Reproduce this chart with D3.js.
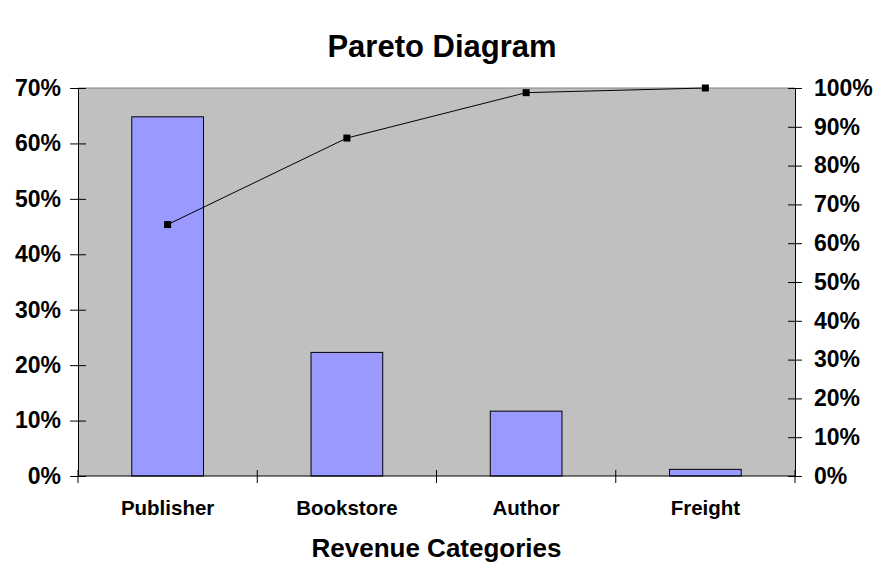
<!DOCTYPE html>
<html><head><meta charset="utf-8">
<script src="https://cdn.jsdelivr.net/npm/d3@7"></script>
<style>body{margin:0;background:#fff}svg{display:block}text{font-family:"Liberation Sans",Arial,sans-serif;font-weight:bold;fill:#000}</style>
</head><body>
<script>
const categories = ["Publisher","Bookstore","Author","Freight"];
const shares = [64.8, 22.3, 11.7, 1.2];
const cumulative = [64.8, 87.1, 98.8, 100];
const leftTicks = [0,10,20,30,40,50,60,70];
const rightTicks = [0,10,20,30,40,50,60,70,80,90,100];

const W=878,H=565;
const m={l:78,r:83,t:88,b:89};
const pw=W-m.l-m.r, ph=H-m.t-m.b;
const svg=d3.select("body").append("svg").attr("width",W).attr("height",H);
const g=svg.append("g").attr("transform",`translate(${m.l},${m.t})`);

const x=d3.scaleBand().domain(categories).range([0,pw]).paddingInner(0).paddingOuter(0);
const yL=d3.scaleLinear().domain([0,70]).range([ph,0]);
const yR=d3.scaleLinear().domain([0,100]).range([ph,0]);

g.append("rect").attr("width",pw).attr("height",ph).attr("fill","#c0c0c0");
g.append("line").attr("x1",0).attr("x2",pw).attr("y1",0).attr("y2",0).attr("stroke","#808080");

const bw=x.bandwidth()*0.4;
g.selectAll(".bar").data(categories).enter().append("rect")
 .attr("x",d=>x(d)+x.bandwidth()/2-bw/2).attr("width",bw)
 .attr("y",(d,i)=>yL(shares[i])).attr("height",(d,i)=>ph-yL(shares[i]))
 .attr("fill","#9999ff").attr("stroke","#000").attr("stroke-width",1);

const line=d3.line().x((d,i)=>x(categories[i])+x.bandwidth()/2).y(d=>yR(d));
g.append("path").datum(cumulative).attr("d",line).attr("fill","none").attr("stroke","#000").attr("stroke-width",1);
g.selectAll(".pt").data(cumulative).enter().append("rect")
 .attr("x",(d,i)=>x(categories[i])+x.bandwidth()/2-3.5).attr("y",d=>yR(d)-3.5)
 .attr("width",7).attr("height",7).attr("fill","#000");

// left axis
const la=g.append("g").call(d3.axisLeft(yL).tickValues(leftTicks).tickFormat(d=>d+"%").tickSizeInner(8).tickSizeOuter(0).tickPadding(9));
la.selectAll(".tick line").attr("x2",-8).attr("x1",8);
la.select(".domain").attr("stroke","#000");
la.selectAll("text").style("font-size","23px");
// right axis
const ra=g.append("g").attr("transform",`translate(${pw},0)`).call(d3.axisRight(yR).tickValues(rightTicks).tickFormat(d=>d+"%").tickSizeInner(7).tickSizeOuter(0).tickPadding(12));
ra.selectAll(".tick line").attr("x1",-7).attr("x2",7);
ra.selectAll("text").style("font-size","23px");
// bottom axis
const bx=g.append("g").attr("transform",`translate(0,${ph})`);
bx.append("line").attr("x1",0).attr("x2",pw).attr("stroke","#000");
const bounds=categories.map(c=>x(c)).concat([pw]);
bx.selectAll(".bt").data(bounds).enter().append("line")
 .attr("x1",d=>d).attr("x2",d=>d).attr("y1",-6).attr("y2",7).attr("stroke","#000");
bx.selectAll(".cl").data(categories).enter().append("text")
 .attr("x",d=>x(d)+x.bandwidth()/2).attr("y",39).attr("text-anchor","middle")
 .style("font-size","20.5px").text(d=>d);

svg.append("text").attr("x",442).attr("y",57).attr("text-anchor","middle").style("font-size","31px").text("Pareto Diagram");
svg.append("text").attr("x",m.l+pw/2).attr("y",557).attr("text-anchor","middle").style("font-size","26px").text("Revenue Categories");
</script>
</body></html>
